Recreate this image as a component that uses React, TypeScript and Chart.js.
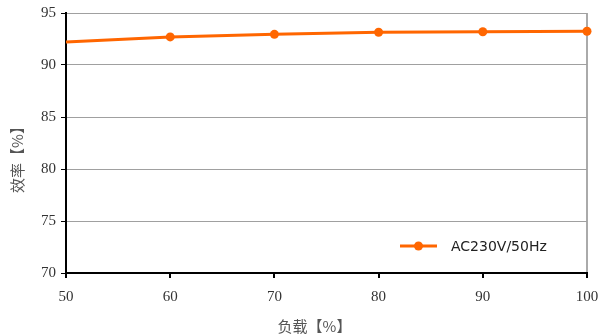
import React, { useEffect, useRef } from "react";
import { Chart, registerables } from "chart.js";

Chart.register(...registerables);

const loads = [50, 60, 70, 80, 90, 100];
const efficiency = [92.2, 92.7, 92.95, 93.15, 93.2, 93.25];
const markerRadii = [0, 4.5, 4.5, 4.5, 4.5, 4.5];
const seriesName = "AC230V/50Hz";
const xTitle = "负载【%】";
const yTitle = "效率【%】";

const ORANGE = "#FF6600";

const overlayPlugin = {
  id: "overlay",
  afterDraw(chart: any) {
    const ctx = chart.ctx;
    const a = chart.chartArea;
    // legend inside plot
    const y = a.bottom - 27;
    const x0 = a.left + 334;
    ctx.save();
    ctx.strokeStyle = ORANGE;
    ctx.lineWidth = 3;
    ctx.beginPath();
    ctx.moveTo(x0, y);
    ctx.lineTo(x0 + 37, y);
    ctx.stroke();
    ctx.fillStyle = ORANGE;
    ctx.beginPath();
    ctx.arc(x0 + 18.5, y, 4.5, 0, Math.PI * 2);
    ctx.fill();
    ctx.fillStyle = "#222";
    ctx.font = "14px 'DejaVu Sans'";
    ctx.textBaseline = "middle";
    ctx.textAlign = "left";
    ctx.fillText(seriesName, x0 + 51, y + 1);

    // axis titles
    ctx.fillStyle = "#555";
    ctx.font = "15px 'Noto Sans CJK SC'";
    ctx.textAlign = "center";
    ctx.fillText(xTitle, a.left + (a.right - a.left) / 2 - 12, a.bottom + 53);
    ctx.translate(17, a.top + (a.bottom - a.top) / 2 + 13);
    ctx.rotate(-Math.PI / 2);
    ctx.fillText(yTitle, 0, 0);
    ctx.restore();
  },
};

export default function App() {
  const ref = useRef<HTMLCanvasElement>(null);
  useEffect(() => {
    const chart = new Chart(ref.current!, {
      type: "line",
      data: {
        datasets: [
          {
            label: seriesName,
            data: loads.map((x, i) => ({ x, y: efficiency[i] })),
            borderColor: ORANGE,
            backgroundColor: ORANGE,
            borderWidth: 3,
            pointRadius: markerRadii,
            pointBackgroundColor: ORANGE,
            pointBorderWidth: 0,
            tension: 0,
            clip: false,
          },
        ],
      },
      plugins: [overlayPlugin],
      options: {
        animation: false,
        responsive: false,
        layout: { padding: { top: 13, right: 13, left: 0, bottom: 0 } },
        plugins: { legend: { display: false }, tooltip: { enabled: false } },
        scales: {
          x: {
            type: "linear",
            min: 50,
            max: 100,
            ticks: {
              stepSize: 10,
              color: "#333",
              font: { family: "'Liberation Serif'", size: 15 },
              padding: 10,
              maxRotation: 0,
            },
            grid: {
              color: (c: any) => (c.tick && c.tick.value === 100 ? "#aaa" : "rgba(0,0,0,0)"),
              tickColor: "#000",
              tickLength: 5,
              lineWidth: 2,
            },
            border: { color: "#000", width: 2 },
            title: { display: false },
            afterFit: (s: any) => {
              s.height = 62;
              s.paddingLeft = 0;
              s.paddingRight = 0;
            },
          },
          y: {
            min: 70,
            max: 95,
            ticks: {
              stepSize: 5,
              color: "#333",
              font: { family: "'Liberation Serif'", size: 15 },
              padding: 5,
            },
            grid: {
              color: "#a0a0a0",
              tickColor: "#000",
              tickLength: 5,
              lineWidth: 1,
            },
            border: { color: "#000", width: 2 },
            title: { display: false },
            afterFit: (s: any) => {
              s.width = 66;
              s.paddingTop = 0;
              s.paddingBottom = 0;
            },
          },
        },
      },
    });
    return () => chart.destroy();
  }, []);
  return (
    <div style={{ position: "fixed", left: 0, top: 0, width: 600, height: 335, background: "#fff" }}>
      <canvas ref={ref} width={600} height={335} style={{ width: 600, height: 335 }} />
    </div>
  );
}
